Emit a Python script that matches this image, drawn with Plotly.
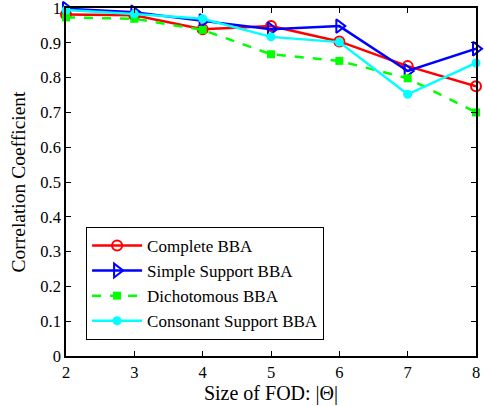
import plotly.graph_objects as go

sizes = [2, 3, 4, 5, 6, 7, 8]
complete = [0.981, 0.979, 0.939, 0.948, 0.904, 0.833, 0.775]
simple = [0.998, 0.988, 0.963, 0.939, 0.948, 0.819, 0.883]
dicho = [0.973, 0.969, 0.937, 0.867, 0.848, 0.798, 0.700]
consonant = [0.994, 0.983, 0.969, 0.917, 0.902, 0.752, 0.842]
y_ticks = [0, 0.1, 0.2, 0.3, 0.4, 0.5, 0.6, 0.7, 0.8, 0.9, 1]
y_labels = ["0", "0.1", "0.2", "0.3", "0.4", "0.5", "0.6", "0.7", "0.8", "0.9", "1"]

font = "Liberation Serif, DejaVu Serif, serif"
fig = go.Figure()
fig.add_trace(go.Scatter(x=sizes, y=complete, name="Complete BBA", mode="lines+markers", cliponaxis=False,
                         line=dict(color="#ff0000", width=2.5),
                         marker=dict(symbol="circle-open", size=10, color="#ff0000", line=dict(width=2))))
fig.add_trace(go.Scatter(x=sizes, y=simple, name="Simple Support BBA", mode="lines+markers", cliponaxis=False,
                         line=dict(color="#0000ff", width=2.5),
                         marker=dict(symbol="triangle-right-open", size=12, color="#0000ff", line=dict(width=2))))
fig.add_trace(go.Scatter(x=sizes, y=dicho, name="Dichotomous BBA", mode="lines+markers", cliponaxis=False,
                         line=dict(color="#00ff00", width=2.5, dash="dash"),
                         marker=dict(symbol="square", size=8, color="#00ff00")))
fig.add_trace(go.Scatter(x=sizes, y=consonant, name="Consonant Support BBA", mode="lines+markers", cliponaxis=False,
                         line=dict(color="#00ffff", width=2.5),
                         marker=dict(symbol="circle", size=9, color="#00ffff")))

axis_common = dict(showline=True, linecolor="black", linewidth=1.5, mirror="ticks",
                   ticks="inside", ticklen=5, tickcolor="black", showgrid=False, zeroline=False,
                   tickfont=dict(family=font, size=16.5, color="black"), automargin=False,
                   ticklabeloverflow="allow")
fig.update_layout(
    width=484, height=406,
    margin=dict(l=66, r=8, t=8, b=50),
    paper_bgcolor="white", plot_bgcolor="white",
    font=dict(family=font, color="black"),
    xaxis=dict(range=[2, 8], tickvals=sizes, title=dict(text="Size of FOD: |Θ|", font=dict(family=font, size=20), standoff=2), **axis_common),
    yaxis=dict(range=[0, 1], tickvals=y_ticks, ticktext=y_labels, title=dict(text="Correlation Coefficient", font=dict(family=font, size=19.5), standoff=10), **axis_common),
    legend=dict(x=0.049, y=0.371, xanchor="left", yanchor="top", bgcolor="white",
                bordercolor="black", borderwidth=1, font=dict(family=font, size=17),
                tracegroupgap=0, itemwidth=50),
    showlegend=True,
)
fig.write_html("out.html", config={"displayModeBar": False},
               post_script="document.body.style.margin='0';document.body.style.overflow='hidden';")
